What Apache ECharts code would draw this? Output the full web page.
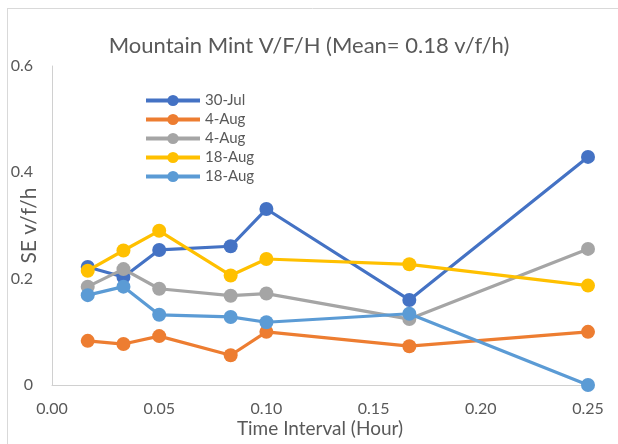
<!DOCTYPE html>
<html><head><meta charset="utf-8">
<script src="https://cdn.jsdelivr.net/npm/echarts@6/dist/echarts.min.js"></script>
<style>html,body{margin:0;padding:0;background:#fff}#c{width:618px;height:444px}</style>
</head><body><div id="c"></div>
<script>
const xValues = [1/60, 2/60, 3/60, 5/60, 6/60, 10/60, 15/60];
const seriesNames = ['30-Jul', '4-Aug', '4-Aug', '18-Aug', '18-Aug'];
const jul30 = [0.222, 0.203, 0.254, 0.261, 0.331, 0.160, 0.429];
const aug4a = [0.083, 0.077, 0.092, 0.056, 0.100, 0.073, 0.100];
const aug4b = [0.185, 0.218, 0.181, 0.168, 0.172, 0.124, 0.256];
const aug18a = [0.215, 0.253, 0.290, 0.206, 0.237, 0.227, 0.187];
const aug18b = [0.169, 0.185, 0.132, 0.128, 0.118, 0.134, 0.000];
const colors = ['#4472C4', '#ED7D31', '#A5A5A5', '#FFC000', '#5B9BD5'];
const xTicks = {min: 0, max: 0.25, interval: 0.05};
const yTicks = {min: 0, max: 0.6, interval: 0.2};

const allData = [jul30, aug4a, aug4b, aug18a, aug18b];
const ids = seriesNames.map((n, i) => 's' + i);
const font = 'Lato';
const chart = echarts.init(document.getElementById('c'));
chart.setOption({
  animation: false,
  textStyle: {fontFamily: font},
  title: {
    text: 'Mountain Mint V/F/H (Mean= 0.18 v/f/h)',
    left: 'center', top: 30,
    textStyle: {fontFamily: font, fontSize: 22, fontWeight: 'normal', color: '#595959'}
  },
  graphic: [
    {type: 'line', shape: {x1: 7, y1: 8.5, x2: 618, y2: 8.5}, style: {stroke: '#D9D9D9', lineWidth: 1}},
    {type: 'line', shape: {x1: 7.5, y1: 8, x2: 7.5, y2: 444}, style: {stroke: '#D9D9D9', lineWidth: 1}}
  ],
  legend: {
    orient: 'vertical', left: 139, top: 88,
    itemWidth: 54, itemHeight: 14, itemGap: 4,
    lineStyle: {width: 4},
    textStyle: {fontFamily: font, fontSize: 15, color: '#595959'},
    formatter: name => seriesNames[ids.indexOf(name)],
    data: ids
  },
  grid: {left: 52, right: 30, top: 66, bottom: 59, containLabel: false, outerBoundsMode: 'none'},
  xAxis: {
    type: 'value', min: xTicks.min, max: xTicks.max, interval: xTicks.interval,
    name: 'Time Interval (Hour)', nameLocation: 'middle', nameGap: 34, nameMoveOverlap: false,
    nameTextStyle: {fontFamily: font, fontSize: 19, color: '#595959'},
    axisLine: {show: true, lineStyle: {color: '#D0D0D0', width: 1}},
    axisTick: {show: false},
    splitLine: {show: false},
    axisLabel: {fontFamily: font, fontSize: 16, color: '#595959', margin: 16,
      formatter: v => v.toFixed(2)}
  },
  yAxis: {
    type: 'value', min: yTicks.min, max: yTicks.max, interval: yTicks.interval,
    name: 'SE v/f/h', nameLocation: 'middle', nameGap: 12, nameRotate: 90, nameMoveOverlap: false,
    nameTextStyle: {fontFamily: font, fontSize: 21, color: '#595959'},
    axisLine: {show: true, lineStyle: {color: '#D0D0D0', width: 1}},
    axisTick: {show: false},
    splitLine: {show: false},
    axisLabel: {fontFamily: font, fontSize: 16, color: '#595959', margin: 19,
      formatter: v => v === 0 ? '0' : v.toFixed(1)}
  },
  series: allData.map((d, i) => ({
    name: ids[i], type: 'line',
    data: d.map((v, j) => [xValues[j], v]),
    symbol: 'circle', symbolSize: 14,
    color: colors[i],
    itemStyle: {color: colors[i]},
    lineStyle: {color: colors[i], width: 3.2},
    z: 2 + i
  }))
});
</script></body></html>
